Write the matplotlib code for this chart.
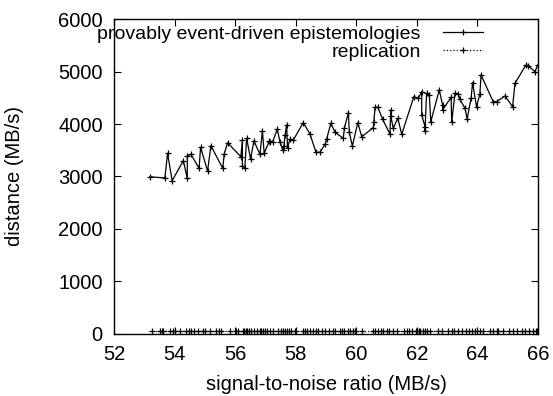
import matplotlib
matplotlib.use("Agg")
import matplotlib.pyplot as plt
import numpy as np

plt.rcParams["font.family"] = ["Liberation Sans", "DejaVu Sans"]

# === Data ===
epi_x = [53.19, 53.68, 53.77, 53.92, 54.29, 54.42, 54.42, 54.54, 54.81, 54.86,
         55.09, 55.20, 55.59, 55.64, 55.75, 56.19, 56.24, 56.24, 56.32, 56.38,
         56.51, 56.62, 56.82, 56.90, 56.96, 57.13, 57.15, 57.24, 57.39, 57.48,
         57.57, 57.61, 57.65, 57.70, 57.73, 57.81, 57.92, 58.25, 58.47, 58.67,
         58.80, 58.97, 59.02, 59.16, 59.30, 59.57, 59.61, 59.74, 59.77, 59.87,
         60.05, 60.18, 60.56, 60.58, 60.62, 60.71, 60.87, 61.11, 61.14, 61.14,
         61.22, 61.37, 61.50, 61.90, 62.05, 62.16, 62.16, 62.27, 62.27, 62.32,
         62.41, 62.46, 62.74, 62.85, 62.85, 63.13, 63.15, 63.26, 63.37, 63.42,
         63.59, 63.66, 63.79, 63.84, 63.97, 64.08, 64.12, 64.52, 64.63, 64.91,
         65.16, 65.24, 65.60, 65.68, 65.90, 65.99]
epi_y = [2996, 2971, 3442, 2920, 3301, 2966, 3396, 3423, 3156, 3556,
         3105, 3587, 3156, 3429, 3644, 3377, 3695, 3200, 3168, 3728,
         3333, 3676, 3423, 3867, 3442, 3676, 3663, 3663, 3899, 3663,
         3505, 3581, 3790, 3981, 3549, 3709, 3695, 4025, 3810, 3461,
         3461, 3613, 3709, 4013, 3842, 3728, 3930, 4215, 3842, 3581,
         4025, 3758, 3930, 4044, 4318, 4318, 4090, 3810, 4267, 4152,
         3918, 4109, 3804, 4520, 4490, 4615, 4171, 3949, 3872, 4585,
         4552, 4044, 4648, 4362, 4267, 4509, 4044, 4585, 4571, 4470,
         4299, 4095, 4490, 4787, 4330, 4571, 4933, 4425, 4425, 4533,
         4330, 4775, 5124, 5105, 4996, 5124]

rep_x = [53.24, 53.52, 53.57, 53.63, 53.85, 53.94, 54.01, 54.18, 54.38, 54.49,
         54.54, 54.64, 54.78, 54.93, 55.00, 55.17, 55.37, 55.48, 55.55, 55.83,
         56.03, 56.10, 56.25, 56.29, 56.36, 56.40, 56.47, 56.54, 56.62, 56.71,
         56.82, 56.87, 56.93, 56.98, 57.04, 57.15, 57.26, 57.43, 57.50, 57.57,
         57.64, 57.70, 57.79, 57.85, 57.98, 58.23, 58.31, 58.36, 58.47, 58.56,
         58.67, 58.75, 58.86, 58.97, 59.11, 59.22, 59.30, 59.46, 59.52, 59.59,
         59.74, 59.79, 59.88, 59.96, 60.18, 60.56, 60.62, 60.73, 60.80, 60.89,
         61.00, 61.09, 61.22, 61.33, 61.57, 61.66, 61.75, 61.83, 61.97, 62.01,
         62.08, 62.12, 62.19, 62.27, 62.35, 62.43, 62.71, 62.82, 63.04, 63.15,
         63.22, 63.37, 63.48, 63.62, 63.73, 63.81, 63.92, 64.00, 64.10, 64.17,
         64.41, 64.52, 64.63, 64.69, 64.85, 65.05, 65.16, 65.29, 65.46, 65.57,
         65.71, 65.84, 65.93, 65.97]
rep_y = [50] * len(rep_x)

x_ticks = [52, 54, 56, 58, 60, 62, 64, 66]
y_ticks = [0, 1000, 2000, 3000, 4000, 5000, 6000]

fig = plt.figure(figsize=(5.53, 3.96), dpi=100)
ax = fig.add_axes([0.2061, 0.1566, 0.7668, 0.7954])

ax.plot(epi_x, epi_y, color="black", lw=0.9, marker="+", ms=5, mew=0.9,
        label="provably event-driven epistemologies")
ax.plot(rep_x, rep_y, color="black", lw=0.9, ls=":", marker="+", ms=5, mew=0.9,
        label="replication")

ax.set_xlim(52, 66)
ax.set_ylim(0, 6000)
ax.set_xticks(x_ticks)
ax.set_yticks(y_ticks)
ax.tick_params(direction="in", top=True, right=True, length=5, width=0.8,
               labelsize=14.5, pad=8)
for s in ax.spines.values():
    s.set_linewidth(1.0)

ax.set_xlabel("signal-to-noise ratio (MB/s)", fontsize=14.5)
ax.set_ylabel("distance (MB/s)", fontsize=14.5)
ax.xaxis.set_label_coords(0.5, -0.13)
ax.yaxis.set_label_coords(-0.213, 0.5)

ax.legend(loc="upper right", frameon=False, markerfirst=False, fontsize=14,
          handlelength=2.06, borderaxespad=0, borderpad=0, labelspacing=0,
          handletextpad=1.13, bbox_to_anchor=(0.870, 0.979))

plt.savefig("out.png", dpi=100, facecolor="white")
plt.close()
